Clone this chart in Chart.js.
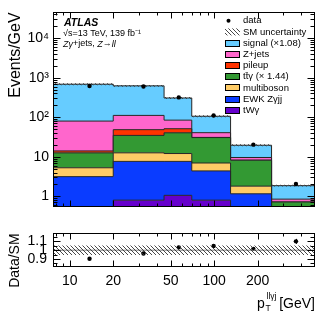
<!DOCTYPE html>
<html>
<head>
<meta charset="utf-8">
<script src="https://cdn.jsdelivr.net/npm/chart.js@4.4.1/dist/chart.umd.min.js"></script>
<style>
html, body { margin: 0; padding: 0; background: #fff; }
#wrap { position: relative; width: 332px; height: 319px; }
#main { position: absolute; left: 0; top: 0; }
#ratio { position: absolute; left: 0; top: 219px; }
</style>
</head>
<body>
<div id="wrap">
<canvas id="main" width="332" height="219"></canvas>
<canvas id="ratio" width="332" height="100"></canvas>
</div>
<script>
var binEdges = [7.65, 20, 45, 70, 130, 250, 500];
var binCentres = [13.7, 32.4, 56.9, 99.2, 187, 369];

// stack components, bottom to top (events/GeV)
var tWgamma    = [0, 0.80, 1.06, 0.80, 0, 0];
var ewkZgjj    = [3.15, 6.86, 6.6, 3.6, 1.16, 0];
var multiboson = [2.13, 4.94, 4.44, 2.57, 0.65, 0];
var ttgamma    = [7.3, 22.2, 28.4, 23.7, 6.4, 0.72];
var pileup     = [1.5, 13.8, 10.9, 0.3, 0, 0];
var zjets      = [66, 63, 33.3, 9.8, 1.4, 0.13];
var signal     = [606, 512, 223, 65.5, 10.0, 1.01];

var dataValues = [620, 601, 318, 111, 20.3, 2.05];
var ratioValues = [0.904, 0.963, 1.032, 1.047, 1.015, 1.10];
var ratioErrors = [0.004, 0.005, 0.006, 0.008, 0.012, 0.028];
var smUncertainty = [0.053, 0.053, 0.053, 0.053, 0.053, 0.053];

var yTicks = [1, 10, 100, 1000, 10000];
var yTickLabels = ['1', '10', '10²', '10³', '10⁴'];
var xTicks = [10, 20, 50, 100, 200];
var xTickLabels = ['10', '20', '50', '100', '200'];
var ratioTicks = [0.9, 1, 1.1];
var ratioTickLabels = ['0.9', '1', '1.1'];

var layers = [
    { label: 'tWγ', values: tWgamma, color: '#6600cc' },
    { label: 'EWK Zγjj', values: ewkZgjj, color: '#0a3cff' },
    { label: 'multiboson', values: multiboson, color: '#ffcc66' },
    { label: 'tt̄γ (× 1.44)', values: ttgamma, color: '#339933' },
    { label: 'pileup', values: pileup, color: '#ff3300' },
    { label: 'Z+jets', values: zjets, color: '#ff66cc' },
    { label: 'signal (×1.08)', values: signal, color: '#66ccff' }
];

var FONT = '"Liberation Sans", Arial, sans-serif';
Chart.defaults.font.family = FONT;
Chart.defaults.color = '#000';

function makeHatch() {
    var c = document.createElement('canvas');
    c.width = 4; c.height = 4;
    var g = c.getContext('2d');
    g.strokeStyle = '#333';
    g.lineWidth = 0.9;
    g.beginPath();
    g.moveTo(-1, -1); g.lineTo(5, 5);
    g.moveTo(3, -1); g.lineTo(5, 1);
    g.moveTo(-1, 3); g.lineTo(1, 5);
    g.stroke();
    return g.createPattern(c, 'repeat');
}
var hatch = makeHatch();

function steps(vals) {
    var pts = [];
    for (var i = 0; i < vals.length; i++) {
        pts.push({ x: binEdges[i], y: Math.max(vals[i], 0.1) });
    }
    pts.push({ x: binEdges[vals.length], y: Math.max(vals[vals.length - 1], 0.1) });
    return pts;
}

function logMinors(lo, hi, majors) {
    var out = [];
    for (var e = Math.floor(Math.log10(lo)); e <= Math.ceil(Math.log10(hi)); e++) {
        for (var m = 1; m < 10; m++) {
            var v = m * Math.pow(10, e);
            if (v > lo && v < hi && majors.indexOf(v) < 0) out.push(v);
        }
    }
    return out;
}

function fixTicks(list) {
    return function (scale) {
        scale.ticks = list.map(function (v) { return { value: v }; });
    };
}
function labelFrom(list, labels) {
    return function (v) {
        var i = list.indexOf(v);
        return i < 0 ? '' : labels[i];
    };
}

function frameTicks(xMajor, xMinor, yMajor, yMinor) {
    return {
        id: 'frameTicks',
        afterDatasetsDraw: function (chart) {
            var ctx = chart.ctx, a = chart.chartArea;
            var xs = chart.scales.x, ys = chart.scales.y;
            var L = Math.round(a.left) + 0.5, R = Math.round(a.right) - 0.5;
            var T = Math.round(a.top) + 0.5, B = Math.round(a.bottom) - 0.5;
            ctx.save();
            ctx.strokeStyle = '#000';
            ctx.lineWidth = 1;
            ctx.beginPath();
            function vt(v, len) {
                var p = Math.round(xs.getPixelForValue(v)) + 0.5;
                ctx.moveTo(p, B); ctx.lineTo(p, B - len);
                ctx.moveTo(p, T); ctx.lineTo(p, T + len);
            }
            function ht(v, len) {
                var p = Math.round(ys.getPixelForValue(v)) + 0.5;
                ctx.moveTo(L, p); ctx.lineTo(L + len, p);
                ctx.moveTo(R, p); ctx.lineTo(R - len, p);
            }
            xMajor.forEach(function (v) { vt(v, 6); });
            xMinor.forEach(function (v) { vt(v, 3); });
            yMajor.forEach(function (v) { ht(v, 7); });
            yMinor.forEach(function (v) { ht(v, 4); });
            ctx.stroke();
            ctx.strokeRect(L, T, R - L, B - T);
            ctx.restore();
        }
    };
}

var xMinor = logMinors(7.65, 500, xTicks);

var annotations = {
    id: 'annotations',
    afterDraw: function (chart) {
        var ctx = chart.ctx;
        ctx.save();
        ctx.fillStyle = '#000';
        ctx.textBaseline = 'middle';
        ctx.textAlign = 'left';
        ctx.font = 'italic bold 10.5px ' + FONT;
        ctx.fillText('ATLAS', 64, 23);
        ctx.font = '9px ' + FONT;
        ctx.fillText('√s=13 TeV, 139 fb⁻¹', 63, 33.5);
        var x = 63;
        [['Z', 'italic '], ['γ', 'italic '], ['+jets, ', ''], ['Z', 'italic '], ['→', ''], ['ll', 'italic ']].forEach(function (p) {
            ctx.font = p[1] + '9px ' + FONT;
            ctx.fillText(p[0], x, 44);
            x += ctx.measureText(p[0]).width;
        });

        // legend
        var rowY = 20.7, dy = 11.2;
        ctx.font = '9.5px ' + FONT;
        ctx.beginPath();
        ctx.arc(228.5, rowY, 2, 0, Math.PI * 2);
        ctx.fill();
        ctx.fillText('data', 243, rowY);
        rowY += dy;
        ctx.fillStyle = hatch;
        ctx.fillRect(225, rowY - 3.5, 15, 7);
        ctx.fillStyle = '#000';
        ctx.fillText('SM uncertainty', 243, rowY);
        for (var k = layers.length - 1; k >= 0; k--) {
            rowY += dy;
            ctx.fillStyle = layers[k].color;
            ctx.fillRect(225, Math.round(rowY - 3.5), 15, 7);
            ctx.strokeStyle = '#000';
            ctx.lineWidth = 1;
            ctx.strokeRect(225.5, Math.round(rowY - 3.5) + 0.5, 14, 6);
            ctx.fillStyle = '#000';
            ctx.fillText(layers[k].label, 243, rowY);
        }
        ctx.restore();
    }
};

var mainSets = [];
var total = binCentres.map(function () { return 0; });
layers.forEach(function (layer, k) {
    total = total.map(function (t, i) { return t + layer.values[i]; });
    mainSets.push({
        data: steps(total),
        stepped: true,
        fill: k === 0 ? 'start' : '-1',
        backgroundColor: layer.color,
        borderColor: '#262626',
        borderWidth: 1,
        pointRadius: 0,
        order: 3
    });
});
mainSets.push({
    data: steps(total.map(function (t, i) { return t * (1 - smUncertainty[i]); })),
    stepped: true, fill: false, borderWidth: 0, borderColor: 'rgba(0,0,0,0)', pointRadius: 0, order: 2
});
mainSets.push({
    data: steps(total.map(function (t, i) { return t * (1 + smUncertainty[i]); })),
    stepped: true, fill: '-1', backgroundColor: hatch, borderWidth: 0, borderColor: 'rgba(0,0,0,0)', pointRadius: 0, order: 2
});
mainSets.push({
    data: binCentres.map(function (x, i) { return { x: x, y: dataValues[i] }; }),
    showLine: false, pointRadius: 2.2, pointBackgroundColor: '#000', pointBorderWidth: 0, order: 1
});

new Chart(document.getElementById('main'), {
    type: 'line',
    data: { datasets: mainSets },
    options: {
        responsive: false,
        animation: false,
        layout: { padding: { left: 0, right: 17, top: 12, bottom: 3 } },
        plugins: { legend: { display: false }, tooltip: { enabled: false } },
        scales: {
            x: { type: 'logarithmic', min: 7.65, max: 500, display: false },
            y: {
                type: 'logarithmic', min: 0.55, max: 45000,
                afterBuildTicks: fixTicks(yTicks),
                afterFit: function (s) { s.width = 53; },
                grid: { display: false, drawTicks: false },
                border: { display: false },
                ticks: { autoSkip: false, padding: 4, font: { size: 14 }, callback: labelFrom(yTicks, yTickLabels) },
                title: { display: true, text: 'Events/GeV', align: 'end', font: { size: 16 }, padding: { top: 6, bottom: 0 } }
            }
        }
    },
    plugins: [frameTicks(xTicks, xMinor, yTicks, logMinors(0.55, 45000, yTicks)), annotations]
});

var ratioBars = {
    id: 'ratioBars',
    afterDatasetsDraw: function (chart) {
        var ctx = chart.ctx, xs = chart.scales.x, ys = chart.scales.y;
        ctx.save();
        ctx.strokeStyle = '#000';
        ctx.lineWidth = 1;
        ctx.beginPath();
        binCentres.forEach(function (x, i) {
            var px = Math.round(xs.getPixelForValue(x)) + 0.5;
            ctx.moveTo(px, ys.getPixelForValue(ratioValues[i] - ratioErrors[i]));
            ctx.lineTo(px, ys.getPixelForValue(ratioValues[i] + ratioErrors[i]));
        });
        ctx.stroke();
        ctx.restore();
    },
    afterDraw: function (chart) {
        var ctx = chart.ctx;
        ctx.save();
        ctx.fillStyle = '#000';
        ctx.textBaseline = 'alphabetic';
        ctx.font = '14px ' + FONT;
        ctx.textAlign = 'right';
        ctx.fillText('[GeV]', 315, 88.5);
        ctx.textAlign = 'left';
        ctx.fillText('p', 257, 88.5);
        ctx.font = '8.5px ' + FONT;
        ctx.fillText('llγj', 266.5, 80);
        ctx.fillText('T', 265.5, 92);
        ctx.restore();
    }
};

var ratioMinors = [0.85, 0.95, 1.05, 1.15];

new Chart(document.getElementById('ratio'), {
    type: 'line',
    data: {
        datasets: [
            {
                data: steps(smUncertainty.map(function (u) { return 1 - u; })),
                stepped: true, fill: false, borderWidth: 0, borderColor: 'rgba(0,0,0,0)', pointRadius: 0
            },
            {
                data: steps(smUncertainty.map(function (u) { return 1 + u; })),
                stepped: true, fill: '-1', backgroundColor: hatch, borderWidth: 0, borderColor: 'rgba(0,0,0,0)', pointRadius: 0
            },
            {
                data: [{ x: binEdges[0], y: 1 }, { x: binEdges[binEdges.length - 1], y: 1 }],
                borderColor: '#808080', borderWidth: 1, pointRadius: 0, fill: false
            },
            {
                data: binCentres.map(function (x, i) { return { x: x, y: ratioValues[i] }; }),
                showLine: false, pointRadius: 2.2, pointBackgroundColor: '#000', pointBorderWidth: 0
            }
        ]
    },
    options: {
        responsive: false,
        animation: false,
        layout: { padding: { left: 0, right: 17, top: 4, bottom: 0 } },
        plugins: { legend: { display: false }, tooltip: { enabled: false } },
        scales: {
            x: {
                type: 'logarithmic', min: 7.65, max: 500,
                afterBuildTicks: fixTicks(xTicks),
                afterFit: function (s) { s.height = 52; },
                grid: { display: false, drawTicks: false },
                border: { display: false },
                ticks: { autoSkip: false, maxRotation: 0, padding: 6, font: { size: 14 }, callback: labelFrom(xTicks, xTickLabels) }
            },
            y: {
                min: 0.81, max: 1.19,
                afterBuildTicks: fixTicks(ratioTicks),
                afterFit: function (s) { s.width = 53; },
                grid: { display: false, drawTicks: false },
                border: { display: false },
                ticks: { autoSkip: false, padding: 6, font: { size: 14 }, callback: labelFrom(ratioTicks, ratioTickLabels) },
                title: { display: true, text: 'Data/SM', align: 'end', font: { size: 14 }, padding: { top: 7, bottom: 0 } }
            }
        }
    },
    plugins: [frameTicks(xTicks, xMinor, ratioTicks, ratioMinors), ratioBars]
});
</script>
</body>
</html>
